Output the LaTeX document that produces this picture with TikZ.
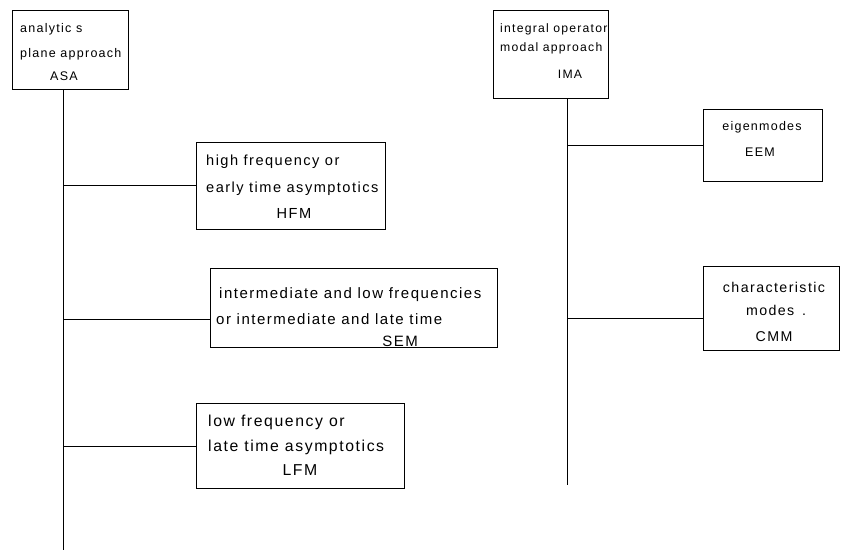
\documentclass[tikz,border=0pt]{standalone}
\usepackage{fontspec}
\setmainfont[LetterSpace=10]{Liberation Sans}
\begin{document}
\begin{tikzpicture}[x=1pt,y=-1pt,
  box/.style={draw, line width=0.9pt, anchor=north west, inner sep=0pt},
  fs/.style={font=\fontsize{#1}{#1}\selectfont},
  fs/.default=12.5,
  txt/.style={fs=#1, inner sep=0pt, anchor=base west},
  txt/.default=12.5,
  ctxt/.style={fs=#1, inner sep=0pt, anchor=base},
  ctxt/.default=12.5,
  conn/.style={line width=0.9pt}]
\useasboundingbox (0,0) rectangle (842,550);
% ASA
\node[box, minimum width=116pt, minimum height=79pt] (asa) at (12,10) {};
\node[txt] (asa1) at (20,32) {analytic s};
\node[txt] (asa2) at (20,57) {plane approach};
\node[ctxt] (asa3) at (64,80) {ASA};
% HFM
\node[box, minimum width=189pt, minimum height=87pt] (hfm) at (196,142) {};
\node[txt=14.6] (hfm1) at (206,165) {high frequency or};
\node[txt=14.6] (hfm2) at (206,192) {early time asymptotics};
\node[ctxt=14.6] (hfm3) at (294,218) {HFM};
% SEM
\node[box, minimum width=287pt, minimum height=79pt] (sem) at (210,268) {};
\node[txt=15] (sem1) at (219,298) {intermediate and low frequencies};
\node[txt=15] (sem2) at (216,324) {or intermediate and late time};
\node[ctxt=15] (sem3) at (400,346) {SEM};
% LFM
\node[box, minimum width=208pt, minimum height=85pt] (lfm) at (196,403) {};
\node[txt=15.8] (lfm1) at (208,426) {low frequency or};
\node[txt=15.8] (lfm2) at (208,451) {late time asymptotics};
\node[ctxt=15.8] (lfm3) at (300,475) {LFM};
% IMA
\node[box, minimum width=115pt, minimum height=88pt] (ima) at (493,10) {};
\node[txt=12.2] (ima1) at (500,32) {integral operator};
\node[txt=12.2] (ima2) at (500,51) {modal approach};
\node[ctxt=12.2] (ima3) at (570,78) {IMA};
% EEM
\node[box, minimum width=119pt, minimum height=72pt] (eem) at (703,109) {};
\node[ctxt] (eem1) at (762,130) {eigenmodes};
\node[ctxt] (eem2) at (760,156) {EEM};
% CMM
\node[box, minimum width=136pt, minimum height=84pt] (cmm) at (703,266) {};
\node[ctxt=14.2] (cmm1) at (774,292) {characteristic};
\node[ctxt=14.2] (cmm2) at (776,315) {modes \,.};
\node[ctxt=14.2] (cmm3) at (774,341) {CMM};
% trunks
\coordinate (asabot) at (63,550);
\coordinate (imabot) at (567,485);
\draw[conn] (asa.south -| asabot) -- (asabot);
\draw[conn] (ima.south -| imabot) -- (imabot);
% branches
\draw[conn] (hfm.west |- 0,185) -| (asabot);
\draw[conn] (sem.west |- 0,319) -| (asabot);
\draw[conn] (lfm.west |- 0,446) -| (asabot);
\draw[conn] (eem.west |- 0,145) -| (imabot);
\draw[conn] (cmm.west |- 0,318) -| (imabot);
\end{tikzpicture}
\end{document}
